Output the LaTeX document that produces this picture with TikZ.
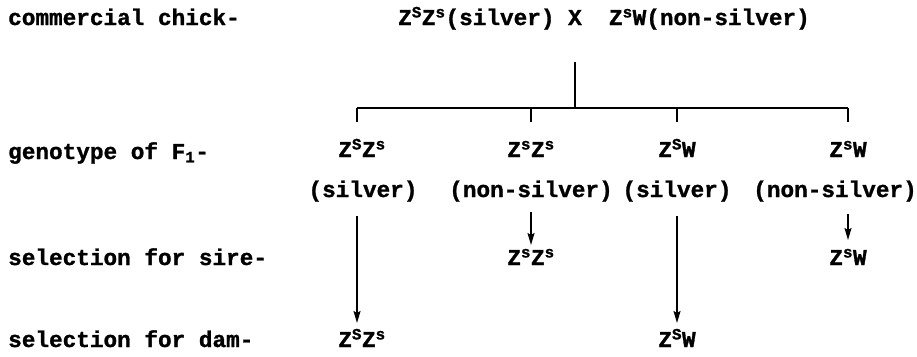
\documentclass[tikz,border=0pt]{standalone}
\usepackage{fontspec}
\setmainfont{Liberation Mono}[BoldFeatures={FakeBold=1.2}]
\usetikzlibrary{arrows.meta}
\newcommand{\zS}{Z\textsuperscript{S}}
\newcommand{\zs}{Z\textsuperscript{s}}
\begin{document}
\begin{tikzpicture}[x=1pt,y=-1pt,
  font=\fontsize{22.7}{26}\selectfont\bfseries,
  txt/.style={inner sep=0pt, anchor=base},
  lft/.style={inner sep=0pt, anchor=base west},
  conn/.style={line width=1.6pt},
  arr/.style={conn, -{Stealth[length=12pt,width=7pt,inset=2pt]}}]
\useasboundingbox (0,0) rectangle (917,356);
% row labels
\node[lft] (lc) at (8,25) {commercial chick-};
\node[lft] (lg) at (8,159) {genotype of F\textsubscript{1}-};
\node[lft] (ls) at (8,265) {selection for sire-};
\node[lft] (ld) at (8,347) {selection for dam-};
% cross
\node[txt] (cross) at (604,25) {\zS\zs(silver) X\ \ \zs W(non-silver)};
% bracket
\coordinate (top) at (575,62);
\coordinate (mid) at (575,108);
\coordinate (b1) at (357,108);
\coordinate (b2) at (531,108);
\coordinate (b3) at (677,108);
\coordinate (b4) at (848,108);
\draw[conn] (top) -- (mid);
\draw[conn] (b1) -- (b4);
\foreach \i in {1,...,4} \draw[conn] (b\i) -- ++(0,14);
% F1 genotypes
\node[txt] (g1) at (362,157) {\zS\zs};
\node[txt] (g2) at (531,157) {\zs\zs};
\node[txt] (g3) at (677,157) {\zS W};
\node[txt] (g4) at (848,157) {\zs W};
% phenotypes
\node[txt] (p1) at (363,197) {(silver)};
\node[txt] (p2) at (531,197) {(non-silver)};
\node[txt] (p3) at (677,197) {(silver)};
\node[txt] (p4) at (835,197) {(non-silver)};
% selections
\node[txt] (s2) at (531,265) {\zs\zs};
\node[txt] (s4) at (848,265) {\zs W};
\node[txt] (d1) at (362,347) {\zS\zs};
\node[txt] (d3) at (677,347) {\zS W};
% arrows
\coordinate (a1s) at (357,216); \coordinate (a1e) at (357,323);
\coordinate (a2s) at (531,212); \coordinate (a2e) at (531,245);
\coordinate (a3s) at (677,216); \coordinate (a3e) at (677,323);
\coordinate (a4s) at (848,214); \coordinate (a4e) at (848,240);
\draw[arr] (a1s) -- (a1e);
\draw[arr] (a2s) -- (a2e);
\draw[arr] (a3s) -- (a3e);
\draw[arr] (a4s) -- (a4e);
\end{tikzpicture}
\end{document}
